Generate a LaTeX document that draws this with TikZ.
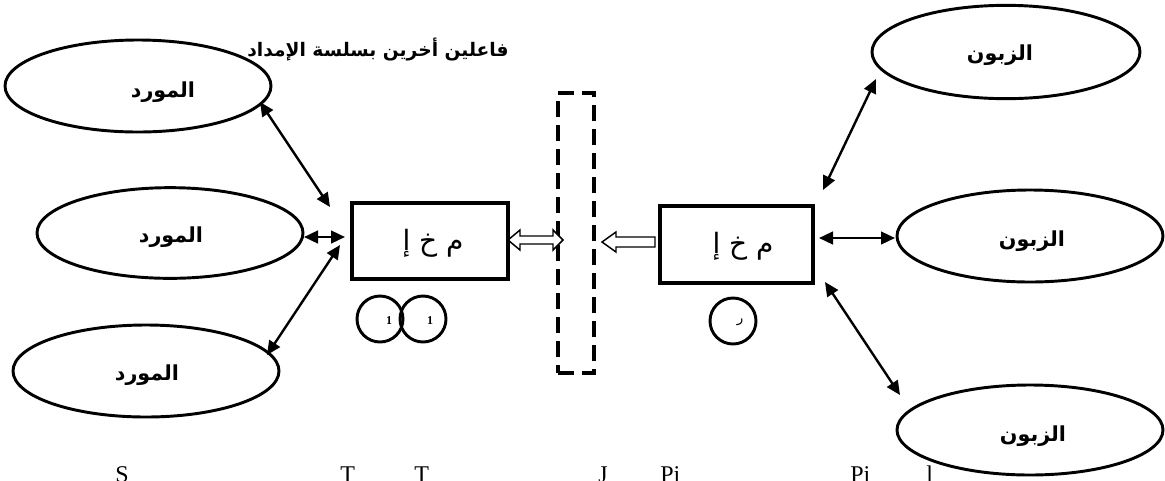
\documentclass[tikz,border=0pt]{standalone}
\usepackage{fontspec}
\setmainfont{Liberation Serif}
\newfontfamily\arabicfont[Script=Arabic]{DejaVu Sans}
\TeXXeTstate=1
\usetikzlibrary{shapes.geometric,arrows.meta,calc}
\tikzset{
 ell/.style={ellipse, draw, line width=2.2pt, inner sep=0pt, fill=white},
 lbl/.style={inner sep=0pt, font=\arabicfont\bfseries\fontsize{15.5}{17}\selectfont},
 box/.style={rectangle, draw, line width=2.6pt, fill=white, inner sep=0pt},
 boxtxt/.style={inner sep=0pt, font=\arabicfont\fontsize{21}{24}\selectfont},
 circ/.style={circle, draw, line width=2.2pt, inner sep=0pt, minimum size=34.5pt},
 digit/.style={inner sep=0pt, font=\fontsize{9}{10}\selectfont\bfseries},
 dbl/.style={{Triangle[length=10.5pt,width=9.5pt]}-{Triangle[length=10.5pt,width=9.5pt]}, line width=1.8pt},
 hollow/.style={draw, line width=1.1pt, fill=white, line join=miter},
 dashbox/.style={draw, dash pattern=on 12pt off 6pt, line width=2.4pt, inner sep=0pt},
 src/.style={anchor=base west, inner sep=0pt, font=\fontsize{18}{20}\selectfont},
}
\begin{document}
\begin{tikzpicture}[x=0.75pt,y=-0.75pt]
\useasboundingbox (0,0) rectangle (1165,480);
\clip (0,0) rectangle (1165,480);

% title
\node[inner sep=0pt, font=\arabicfont\bfseries\fontsize{14}{16}\selectfont] (title) at (378,50) {\beginR فاعلين أخرين بسلسة الإمداد\endR};

% supplier ellipses
\node[ell, minimum width=199.5pt, minimum height=69pt] (s1) at (138,86) {};
\node[lbl] (s1t) at (163,92) {\beginR المورد\endR};
\node[ell, minimum width=199.5pt, minimum height=68pt] (s2) at (170,233) {};
\node[lbl] (s2t) at (171,237) {\beginR المورد\endR};
\node[ell, minimum width=199.5pt, minimum height=69pt] (s3) at (146,371) {};
\node[lbl] (s3t) at (147,375) {\beginR المورد\endR};

% customer ellipses
\node[ell, minimum width=201pt, minimum height=70pt] (c1) at (1006,52) {};
\node[lbl] (c1t) at (1000,55) {\beginR الزبون\endR};
\node[ell, minimum width=199.5pt, minimum height=69pt] (c2) at (1030,236) {};
\node[lbl] (c2t) at (1032,241) {\beginR الزبون\endR};
\node[ell, minimum width=199.5pt, minimum height=67.5pt] (c3) at (1030,430) {};
\node[lbl] (c3t) at (1033,436) {\beginR الزبون\endR};

% dashed box
\node[dashbox, minimum width=27pt, minimum height=210pt] (db) at (576,233) {};

% left firm box with hollow double arrow
\coordinate (hl) at (508,240);
\draw[hollow] (hl) -- ++(12,-10) -- ++(0,6) -- ++(33,0) -- ++(0,-6) -- ++(10,10)
  -- ++(-10,10) -- ++(0,-6) -- ++(-33,0) -- ++(0,6) -- cycle;
\node[box, minimum width=117pt, minimum height=57pt] (b1) at (430,241) {};
\node[boxtxt] (b1t) at (433,243) {\beginR م خ إ\endR};

% right firm box
\node[box, minimum width=114.75pt, minimum height=57.75pt] (b2) at (736.5,244.5) {};
\node[boxtxt] (b2t) at (743,246) {\beginR م خ إ\endR};
\coordinate (hr) at (602,242);
\draw[hollow] (hr) -- ++(14,-10) -- ++(0,5) -- ++(39,0) -- ++(0,10) -- ++(-39,0) -- ++(0,5) -- cycle;

% circles
\node[circ] (k1) at (380,319) {};
\node[circ] (k2) at (423,319) {};
\node[digit] at (389,321) {1};
\node[digit] at (430,321) {1};
\node[circ] (k3) at (733,321) {};
\node[inner sep=0pt, font=\arabicfont\fontsize{10}{11}\selectfont] at (740,322) {ر};

% double arrows, left side
\coordinate (a1s) at (260,102); \coordinate (a1e) at (330,207);
\coordinate (a2s) at (304,237); \coordinate (a2e) at (345,237);
\coordinate (a3s) at (267,355); \coordinate (a3e) at (340,245);
\draw[dbl] (a1s) -- (a1e);
\draw[dbl] (a2s) -- (a2e);
\draw[dbl] (a3s) -- (a3e);

% double arrows, right side
\coordinate (a4s) at (823,190); \coordinate (a4e) at (876,79);
\coordinate (a5s) at (819,238); \coordinate (a5e) at (895,238);
\coordinate (a6s) at (825,282); \coordinate (a6e) at (900,395);
\draw[dbl] (a4s) -- (a4e);
\draw[dbl] (a5s) -- (a5e);
\draw[dbl] (a6s) -- (a6e);

% clipped source line at the bottom
\node[src] at (115,482) {S};
\node[src] at (340,482) {T};
\node[src] at (414,482) {T};
\node[src] at (598,482) {J};
\node[src] at (660,482) {Pi};
\node[src] at (850,482) {Pi};
\node[src] at (926,482) {l};
\end{tikzpicture}
\end{document}
